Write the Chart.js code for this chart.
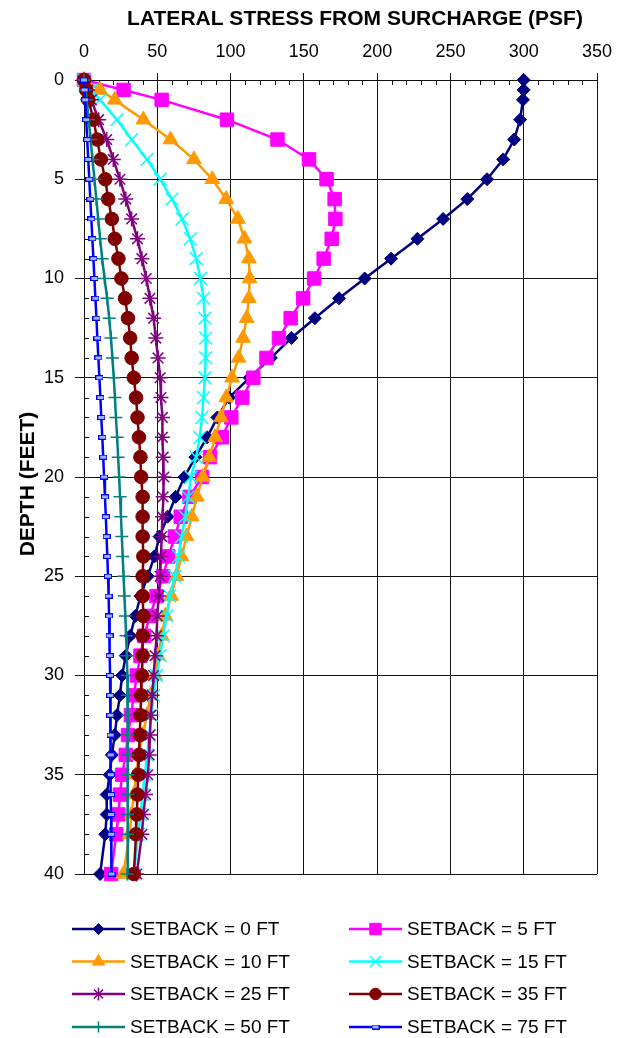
<!DOCTYPE html>
<html>
<head>
<meta charset="utf-8">
<script src="https://cdn.jsdelivr.net/npm/chart.js@4.4.1/dist/chart.umd.min.js"></script>
<style>
  html, body { margin: 0; padding: 0; background: #fff; }
  #wrap { position: relative; width: 633px; height: 1038px; }
</style>
</head>
<body>
<div id="wrap"><canvas id="chart"></canvas></div>
<script>
// Depth below top of wall (ft); readings at 0, 0.5, 1, 2 ... 38, 40
const depthFt = [0, 0.5, 1, 2, 3, 4, 5, 6, 7, 8, 9, 10, 11, 12, 13, 14, 15, 16, 17, 18, 19, 20,
  21, 22, 23, 24, 25, 26, 27, 28, 29, 30, 31, 32, 33, 34, 35, 36, 37, 38, 40];

// Lateral stress (psf) at each depth, one list per setback distance
const setback0 = [300, 300, 299.5, 297.5, 293.5, 286, 275, 261.5, 245, 227.5, 209.5, 191.5, 174, 157.5, 141.5,
  127.5, 113, 99, 91, 84, 76, 68.5, 62.5, 57, 51.5, 48, 43.5, 38.5, 35, 31.5, 28.5, 26, 24.5, 22.5, 21, 19,
  17.5, 15.5, 15.5, 14.5, 11];
const setback5 = [0, 27, 53, 97.5, 132, 153.5, 165.5, 171, 171.5, 169, 163.5, 157, 149.5, 141, 133, 124.5,
  115.5, 108, 100.5, 94, 86, 80.5, 72, 66, 62, 57.5, 54, 49.5, 45, 41, 38.5, 36, 34, 32, 30, 28.5, 26, 24.5,
  23.5, 22, 18.5];
const setback10 = [0, 11, 21, 40.5, 59, 75, 87.5, 97, 105, 109.5, 112.5, 113, 112.5, 111, 108.5, 105.5, 101,
  97, 93.5, 89.5, 85.5, 81, 77, 73.5, 70, 66.5, 63, 59.5, 55.5, 53, 50.5, 48.5, 45.5, 43, 40, 37.5, 35.5, 34,
  32.5, 31, 27];
const setback15 = [0, 5, 11, 22.5, 32.5, 43, 52, 60, 67, 72.5, 76.5, 79.5, 81.5, 82.5, 83, 83, 82.5, 81.5,
  80.5, 79, 76.5, 73, 71, 69, 66.5, 64.5, 62, 58.5, 56.5, 54, 52, 49.5, 47.5, 46, 44.5, 43, 41.5, 40, 38.5,
  37, 34];
const setback25 = [0, 2.5, 5, 10, 15.5, 20, 24.5, 28.5, 32.5, 36.5, 39.5, 42.5, 45, 47.5, 49, 50.5, 52, 52.5,
  53.5, 53.5, 54, 54.5, 54, 53.5, 53, 52.5, 52, 51, 50, 49.5, 48.5, 47.5, 46.5, 45.5, 45, 44.5, 43.5, 42,
  40.5, 39.5, 36];
const setback35 = [0, 1.5, 3, 6.5, 9, 11.5, 14.5, 16.5, 19, 21, 23.5, 25.5, 28, 30, 31.5, 32.5, 34, 35.5,
  36.5, 37.5, 38.5, 39, 40, 40, 40, 40.5, 40, 40, 40.5, 40, 40, 39.5, 39, 38.5, 38, 37.5, 37, 36.5, 36, 35.5, 34];
const setback50 = [0, 0.8, 1.8, 3.2, 4.5, 5.8, 7.1, 8.4, 9.7, 11, 12.4, 14, 15.8, 17.2, 18.4, 19.4, 20.3, 21.1,
  21.8, 22.6, 23.3, 24, 24.6, 25.2, 25.8, 26.4, 27, 27.6, 28.2, 28.7, 29.2, 29.6, 29.8, 29.9, 30, 30, 30,
  29.9, 29.8, 29.7, 29.4];
const setback75 = [0, 0.4, 0.8, 1.5, 2.2, 2.9, 3.6, 4.3, 5, 5.7, 6.4, 7.1, 7.8, 8.5, 9.1, 9.8, 10.5, 11.2,
  11.8, 12.5, 13.1, 13.7, 14.3, 14.9, 15.4, 15.9, 16.4, 16.8, 17.1, 17.4, 17.6, 17.8, 17.9, 18, 18.1, 18.2,
  18.3, 18.4, 18.5, 18.6, 18.8];

const seriesLabels = ['SETBACK = 0 FT', 'SETBACK = 5 FT', 'SETBACK = 10 FT', 'SETBACK = 15 FT',
  'SETBACK = 25 FT', 'SETBACK = 35 FT', 'SETBACK = 50 FT', 'SETBACK = 75 FT'];
const seriesValues = [setback0, setback5, setback10, setback15, setback25, setback35, setback50, setback75];

const xAxisTitle = 'LATERAL STRESS FROM SURCHARGE (PSF)';
const yAxisTitle = 'DEPTH (FEET)';

const FONT = "'Liberation Sans', Arial, Helvetica, sans-serif";

// small dash marker used by the 75 ft series
function dashMarker() {
  const c = document.createElement('canvas');
  c.width = 8; c.height = 5;
  const g = c.getContext('2d');
  g.fillStyle = '#9db4ff';
  g.fillRect(0, 0, 8, 5);
  g.strokeStyle = '#0000ff';
  g.lineWidth = 1;
  g.strokeRect(0.5, 0.5, 7, 4);
  return c;
}

const styles = [
  { color: '#000080', fill: '#000080', point: 'rectRot', r: 6.5, pw: 1 },
  { color: '#ff00ff', fill: '#ff00ff', point: 'rect', r: 9.5, pw: 1 },
  { color: '#ff9900', fill: '#ff9900', point: 'triangle', r: 8.5, pw: 1 },
  { color: '#00ffff', fill: '#00ffff', point: 'crossRot', r: 9, pw: 1.5 },
  { color: '#800080', fill: '#800080', point: 'star', r: 7.5, pw: 1.5 },
  { color: '#800000', fill: '#800000', point: 'circle', r: 6.8, pw: 1 },
  { color: '#008080', fill: '#008080', point: 'cross', r: 6.5, pw: 1.5 },
  { color: '#0000ff', fill: '#0000ff', point: dashMarker(), r: 4, pw: 1 }
];

const datasets = seriesValues.map((vals, i) => ({
  label: seriesLabels[i],
  data: depthFt.map((d, k) => ({ x: vals[k], y: d })),
  showLine: true,
  borderColor: styles[i].color,
  backgroundColor: styles[i].fill,
  borderWidth: 2.5,
  tension: 0,
  pointStyle: styles[i].point,
  pointRadius: styles[i].r,
  pointHoverRadius: styles[i].r,
  pointBackgroundColor: styles[i].fill,
  pointBorderColor: styles[i].color,
  pointBorderWidth: styles[i].pw,
  clip: false,
  order: seriesValues.length - i
}));

// Axis titles, inward minor ticks and the two-column key
const decorations = {
  id: 'decorations',
  beforeDatasetsDraw(chart) {
    const { ctx, chartArea: a, scales: { x, y } } = chart;
    ctx.save();
    ctx.strokeStyle = '#111';
    ctx.lineWidth = 1;
    ctx.beginPath();
    for (let v = 10; v < 350; v += 10) {
      if (v % 50 === 0) continue;
      const px = Math.round(x.getPixelForValue(v)) + 0.5;
      ctx.moveTo(px, a.top);
      ctx.lineTo(px, a.top + 5);
    }
    for (let d = 1; d < 40; d += 1) {
      if (d % 5 === 0) continue;
      const py = Math.round(y.getPixelForValue(d)) + 0.5;
      ctx.moveTo(a.left, py);
      ctx.lineTo(a.left + 5, py);
    }
    ctx.stroke();
    ctx.restore();
  },
  afterDraw(chart) {
    const { ctx } = chart;
    ctx.save();
    ctx.fillStyle = '#000';
    ctx.font = 'bold 21px ' + FONT;
    ctx.textAlign = 'center';
    ctx.textBaseline = 'middle';
    ctx.fillText(xAxisTitle, 355, 19);
    ctx.translate(28, 484);
    ctx.rotate(-Math.PI / 2);
    ctx.fillText(yAxisTitle, 0, 0);
    ctx.restore();

    // key: two columns, four rows
    const colLine = [72, 349];
    const lineLen = 53;
    const rows = [929, 961.5, 994, 1027];
    ctx.save();
    ctx.font = '19px ' + FONT;
    ctx.textBaseline = 'middle';
    ctx.textAlign = 'left';
    chart.data.datasets.forEach((ds, i) => {
      const col = i % 2, row = Math.floor(i / 2);
      const x0 = colLine[col], yy = rows[row];
      ctx.strokeStyle = ds.borderColor;
      ctx.lineWidth = ds.borderWidth;
      ctx.beginPath();
      ctx.moveTo(x0, yy);
      ctx.lineTo(x0 + lineLen, yy);
      ctx.stroke();
      ctx.fillStyle = ds.pointBackgroundColor;
      ctx.strokeStyle = ds.pointBorderColor;
      ctx.lineWidth = ds.pointBorderWidth;
      Chart.helpers.drawPoint(ctx, {
        pointStyle: ds.pointStyle,
        radius: ds.pointRadius * 0.85,
        rotation: 0,
        borderWidth: ds.pointBorderWidth
      }, x0 + lineLen / 2, yy);
      ctx.fillStyle = '#000';
      ctx.fillText(ds.label, x0 + lineLen + 5, yy + 1);
    });
    ctx.restore();
  }
};

new Chart(document.getElementById('chart'), {
  type: 'scatter',
  data: { datasets },
  options: {
    responsive: true,
    maintainAspectRatio: false,
    animation: false,
    events: [],
    layout: { padding: { top: 0, left: 0, right: 36, bottom: 164 } },
    plugins: {
      legend: { display: false },
      tooltip: { enabled: false },
      title: { display: false }
    },
    scales: {
      x: {
        type: 'linear',
        position: 'top',
        min: 0,
        max: 350,
        afterFit(scale) { scale.height = 80; },
        ticks: {
          stepSize: 50,
          padding: 10,
          color: '#000',
          font: { family: FONT, size: 18 }
        },
        grid: { color: '#111', lineWidth: 1, tickLength: 7, drawTicks: true },
        border: { display: true, color: '#111', width: 1 }
      },
      y: {
        type: 'linear',
        position: 'left',
        reverse: true,
        min: 0,
        max: 40,
        afterFit(scale) { scale.width = 84; },
        ticks: {
          stepSize: 5,
          padding: 11,
          color: '#000',
          font: { family: FONT, size: 18 }
        },
        grid: { color: '#111', lineWidth: 1, tickLength: 9, drawTicks: true },
        border: { display: true, color: '#111', width: 1 }
      }
    }
  },
  plugins: [decorations]
});
</script>
</body>
</html>
